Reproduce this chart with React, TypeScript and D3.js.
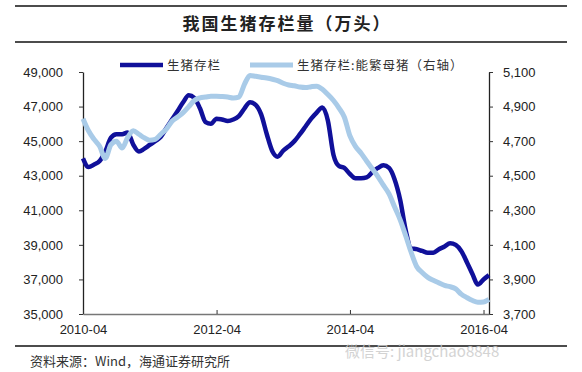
import React, { useRef, useEffect } from 'react';
import * as d3 from 'd3';

// 生猪存栏 (left axis), monthly from 2010-04
const hogStock = [
  44000, 43500, 43650, 43850, 44400, 45200, 45400, 45400, 45500, 44800,
  44400, 44550, 44780, 45000, 45250, 45750, 46250, 46750, 47250, 47650,
  47500, 46900, 46100, 46000, 46300, 46250, 46170, 46250, 46450, 46900,
  47250, 47100, 46550, 45400, 44400, 44100, 44450, 44700, 45000, 45400,
  45850, 46300, 46650, 46950, 46200, 44200, 43550, 43450, 43100, 42850,
  42850, 42900, 43200, 43450, 43600, 43450, 42800, 41600, 39800, 38800,
  38750, 38650, 38550, 38550, 38750, 38900, 39100, 39000, 38650, 38000,
  37300, 36700, 37000, 37250,
];

// 生猪存栏:能繁母猪 (right axis)
const sowStock = [
  4830, 4760, 4710, 4670, 4600, 4680, 4700, 4660, 4720, 4760,
  4740, 4720, 4705, 4710, 4740, 4770, 4815, 4840, 4865, 4900,
  4935, 4950, 4955, 4960, 4960, 4958, 4955, 4950, 4955, 5030,
  5080, 5075, 5070, 5065, 5058, 5050, 5035, 5025, 5020, 5013,
  5010, 5015, 5018, 5000, 4970, 4935, 4890, 4840, 4730, 4670,
  4630, 4585, 4540, 4495, 4445, 4395, 4320, 4245, 4150, 4060,
  3975, 3940, 3912, 3895, 3880, 3865, 3858, 3845, 3815, 3795,
  3778, 3768, 3770, 3785,
];

const months = hogStock.map((_, i) => new Date(2010, 3 + i, 1));
const xTicks = ['2010-04', '2012-04', '2014-04', '2016-04'];
const leftTicks = [35000, 37000, 39000, 41000, 43000, 45000, 47000, 49000];
const rightTicks = [3700, 3900, 4100, 4300, 4500, 4700, 4900, 5100];

const title = '我国生猪存栏量（万头）';
const seriesNames = ['生猪存栏', '生猪存栏:能繁母猪（右轴）'];
const source = '资料来源：Wind，海通证券研究所';
const watermark = '微信号: jiangchao8848';

const W = 582;
const H = 372;
const DARK = '#10109a';
const LIGHT = '#a9cbe8';
const latin = '"Liberation Sans", Arial, sans-serif';
const cjk = '"Noto Sans CJK SC", sans-serif';

const App = () => {
  const svgRef = useRef<SVGSVGElement>(null);

  useEffect(() => {
    const svg = d3.select(svgRef.current);
    svg.selectAll('*').remove();

    const left = 83, right = 489, top = 72, bottom = 314;
    const parse = d3.timeParse('%Y-%m');

    const x = d3.scaleTime()
      .domain([new Date(2010, 3, 1), new Date(2016, 4, 1)])
      .range([left, right]);
    const yL = d3.scaleLinear().domain([35000, 49000]).range([bottom, top]);
    const yR = d3.scaleLinear().domain([3700, 5100]).range([bottom, top]);

    // frame lines
    const rule = (y: number) => svg.append('line')
      .attr('x1', 15).attr('x2', 567).attr('y1', y).attr('y2', y)
      .attr('stroke', '#111').attr('stroke-width', 1.5);
    rule(6);
    rule(42);
    rule(346);

    svg.append('text')
      .attr('x', 287).attr('y', 30)
      .attr('text-anchor', 'middle')
      .attr('font-family', cjk).attr('font-weight', 'bold')
      .attr('font-size', 17).attr('letter-spacing', 2)
      .attr('fill', '#222')
      .text(title);

    // legend
    const legend = [
      { name: seriesNames[0], color: DARK, x: 120, w: 4.5 },
      { name: seriesNames[1], color: LIGHT, x: 250, w: 5 },
    ];
    legend.forEach(l => {
      svg.append('line')
        .attr('x1', l.x).attr('x2', l.x + 43).attr('y1', 65).attr('y2', 65)
        .attr('stroke', l.color).attr('stroke-width', l.w);
      svg.append('text')
        .attr('x', l.x + 47).attr('y', 69.5)
        .attr('font-family', cjk).attr('font-size', 12.5).attr('letter-spacing', 1)
        .attr('fill', '#333')
        .text(l.name);
    });

    // axes
    const gL = svg.append('g')
      .attr('transform', `translate(${left},0)`)
      .call(d3.axisLeft(yL).tickValues(leftTicks).tickFormat(d3.format(',')).tickSizeInner(4).tickSizeOuter(0).tickPadding(16));
    const gR = svg.append('g')
      .attr('transform', `translate(${right},0)`)
      .call(d3.axisRight(yR).tickValues(rightTicks).tickFormat(d3.format(',')).tickSizeInner(4).tickSizeOuter(0).tickPadding(10));
    const gX = svg.append('g')
      .attr('transform', `translate(0,${bottom})`)
      .call(d3.axisBottom(x).tickValues(xTicks.map(t => parse(t) as Date)).tickFormat(d3.timeFormat('%Y-%m') as any).tickSizeInner(-4).tickSizeOuter(0).tickPadding(11));

    [gL, gR, gX].forEach(g => {
      g.selectAll('text').attr('font-family', latin).attr('font-size', 13).attr('fill', '#222');
      g.select('.domain').attr('stroke', '#222').attr('stroke-width', 1.3);
      g.selectAll('.tick line').attr('stroke', '#333');
    });
    gX.select('.domain').attr('stroke', '#777');

    const lineL = d3.line<number>()
      .x((_, i) => x(months[i]))
      .y(d => yL(d))
      .curve(d3.curveMonotoneX);
    const lineR = d3.line<number>()
      .x((_, i) => x(months[i]))
      .y(d => yR(d))
      .curve(d3.curveMonotoneX);

    svg.append('path')
      .datum(hogStock)
      .attr('d', lineL)
      .attr('fill', 'none')
      .attr('stroke', DARK)
      .attr('stroke-width', 4.5)
      .attr('stroke-linejoin', 'round');

    svg.append('path')
      .datum(sowStock)
      .attr('d', lineR)
      .attr('fill', 'none')
      .attr('stroke', LIGHT)
      .attr('stroke-width', 5)
      .attr('stroke-linejoin', 'round');

    // source + watermark
    svg.append('text')
      .attr('x', 30).attr('y', 366)
      .attr('font-family', cjk).attr('font-size', 13)
      .attr('fill', '#333')
      .text(source);

    svg.append('text')
      .attr('x', 345).attr('y', 357)
      .attr('font-family', cjk).attr('font-size', 15)
      .attr('fill', '#c9c9c9').attr('opacity', 0.8)
      .text(watermark);
  }, []);

  return (
    <svg ref={svgRef} width={W} height={H}
      style={{ position: 'absolute', left: 0, top: 0, background: '#fff' }} />
  );
};

export default App;
